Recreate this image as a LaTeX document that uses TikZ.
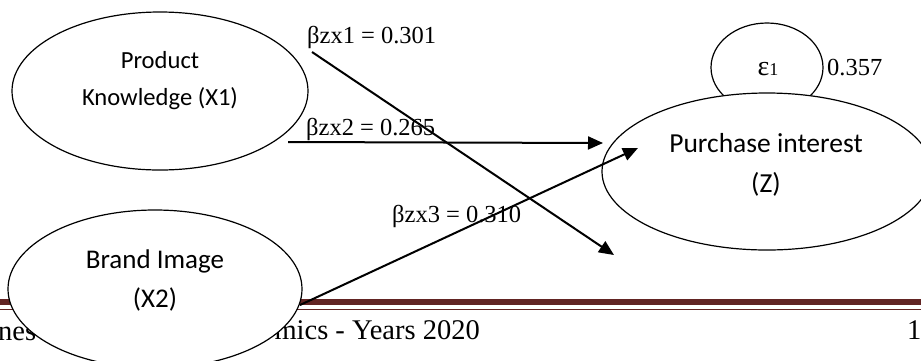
\documentclass[tikz,border=0pt]{standalone}
\usepackage{fontspec}
\setmainfont{Liberation Serif}
\newfontfamily\calib{Carlito}
\usetikzlibrary{shapes.geometric,arrows.meta}
\definecolor{footred}{HTML}{622423}
\begin{document}
\begin{tikzpicture}[x=1pt,y=-1pt,
  latent/.style={draw,ellipse,fill=white,line width=1.2pt,inner sep=0pt},
  effect/.style={line width=2pt,-{Triangle[length=15pt,width=13pt]}},
  sanslab/.style={anchor=base,inner sep=0pt,font=\calib\fontsize{#1}{#1}\selectfont},
  coef/.style={anchor=base west,inner sep=0pt,font=\fontsize{24.5}{26}\selectfont},
  foot/.style={inner sep=0pt,font=\fontsize{28.5}{30}\selectfont},
  rule/.style={draw=footred}]
\useasboundingbox (0,0) rectangle (921,360);
% footer
\draw[rule,line width=6pt] (0,302) -- (921,302);
\draw[rule,line width=1.3pt] (0,309.3) -- (921,309.3);
\node[foot,anchor=base west] (f1) at (-2,340) {nes};
\node[foot,anchor=base east] (f2) at (480,339) {mics - Years 2020};
\node[foot,anchor=base west] (f3) at (907,339) {19};
% latent variables
\node[latent,minimum width=296,minimum height=158] (X1) at (160,91) {};
\node[latent,minimum width=294,minimum height=158] (X2) at (155,289) {};
\node[latent,minimum width=112,minimum height=89] (eps) at (767,67.5) {};
\node[latent,minimum width=330,minimum height=157] (Z) at (767,171.5) {};
% labels in ellipses
\node[sanslab=24.6] (x1a) at (160,68) {Product};
\node[sanslab=24.6] (x1b) at (160,105) {Knowledge (X1)};
\node[sanslab=27] (x2a) at (155,268) {Brand Image};
\node[sanslab=27] (x2b) at (155,307) {(X2)};
\node[sanslab=27.5] (za) at (766,152) {Purchase interest};
\node[sanslab=27.5] (zb) at (766,192) {(Z)};
\node[anchor=base,inner sep=0pt,font=\fontsize{28}{28}\selectfont] (epst) at (768,75) {ε{\fontsize{18}{18}\selectfont 1}};
\node[anchor=base west,inner sep=0pt,font=\fontsize{24.5}{26}\selectfont] (epsv) at (827,75) {0.357};
% coefficients
\node[coef] (b1) at (307,43) {βzx1 = 0.301};
\node[coef] (b2) at (306,135) {βzx2 = 0.265};
\node[coef] (b3) at (392,222) {βzx3 = 0.310};
% arrows
\coordinate (a1s) at (312,52);
\coordinate (a1e) at (614,255);
\coordinate (a2s) at (288,142);
\coordinate (a2e) at (603,143);
\coordinate (a3s) at (300,305);
\coordinate (a3e) at (638,148);
\draw[effect] (a1s) -- (a1e);
\draw[effect] (a2s) -- (a2e);
\draw[effect] (a3s) -- (a3e);
\end{tikzpicture}
\end{document}
